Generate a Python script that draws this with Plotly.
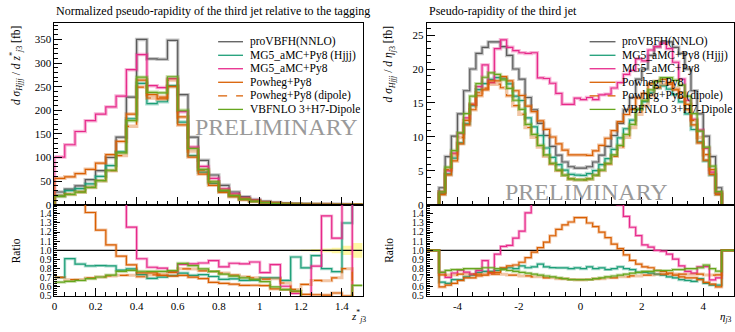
import numpy as np
import plotly.graph_objects as go

W, H = 735, 332
SERIF = "Liberation Serif, Times New Roman, serif"

# ---------------- data: left panel (z*_j3) ----------------
z_edges = [round(0.05 * i, 2) for i in range(31)]
z_prov = [27, 33, 40, 53, 72, 100, 143, 228, 350, 309, 308, 348, 233, 143, 94, 63, 41, 27, 17, 11,
          7, 4.5, 2.8, 1.8, 1.1, 0.7, 0.45, 0.3, 0.2, 0.12]
z_mg5_hjjj = [19, 30, 34, 44, 60, 83, 112, 182, 257, 214, 218, 252, 175, 104, 69, 45, 28, 18.6, 11.4, 7.4,
              4.9, 3.15, 1.88, 1.67, 0.89, 0.66, 0.36, 0.23, 0.26, 0.22]
z_mg5 = [101, 127, 155, 178, 192, 207, 230, 286, 318, 252, 248, 267, 197, 122, 81, 56, 33.6, 23.2, 14.5, 9.6,
         5.3, 3.8, 1.7, 0.95, 0.5, 0.58, 0.62, 0.34, 0.4, 0]
z_powheg = [56, 59, 66, 75, 88, 106, 134, 192, 264, 233, 224, 250, 169, 101, 65, 41, 26.2, 17, 10.5, 6.8,
            4.3, 2.6, 1.6, 0.99, 0.57, 0.36, 0.23, 0.16, 0.1, 0.04]
z_powheg_dip = [19, 22.4, 27.2, 37, 51, 72, 104, 166, 249, 226, 228, 264, 186, 114, 73, 48.5, 30.8, 19.7, 12.1, 7.7,
                4.8, 3.1, 1.8, 1.03, 0.69, 0.47, 0.3, 0.21, 0.16, 0.05]
z_vbfnlo = [17.6, 21.8, 26.8, 36.6, 51, 73, 110, 178, 270, 238, 237, 271, 200, 119, 75, 48.5, 30.3, 19.4, 11.9, 7.5,
            4.6, 2.7, 1.6, 1.0, 0.5, 0.3, 0.2, 0.13, 0.09, 0.074]
z_prov_relunc = [0.0] * 23 + [0.008, 0.01, 0.015, 0.02, 0.03, 0.05, 0.08]

# ---------------- data: right panel (eta_j3) ----------------
eta_edges = [round(-4.6 + 0.2 * i, 2) for i in range(47)]
eta_prov = [2.5, 7.1, 10.1, 13.4, 16.8, 20.0, 22.3, 23.2, 24.0, 24.0, 23.3, 22.0, 20.0, 18.5, 15.8, 14.0, 12.0,
            10.2, 8.6, 7.3, 6.3, 5.6, 5.4, 5.4, 5.6, 6.3, 7.3, 8.6, 10.2, 12.0, 14.0, 15.8, 18.5, 20.0, 22.0,
            23.3, 24.0, 24.0, 23.2, 22.3, 20.0, 16.8, 13.4, 10.1, 7.1, 2.5]
eta_mg5_hjjj = [1.63, 4.54, 6.87, 9.11, 11.93, 14.6, 16.95, 17.86, 18.48, 18.72, 18.64, 17.82, 16.0, 15.36,
                12.8, 11.48, 10.2, 8.36, 6.97, 5.91, 5.1, 4.48, 4.37, 4.32, 4.59, 5.04, 5.91, 6.79, 8.16,
                9.84, 11.2, 12.48, 14.06, 15.2, 16.5, 17.24, 17.52, 17.04, 16.24, 15.16, 13.4, 11.09, 9.25,
                6.46, 4.4, 1.55]
eta_mg5 = [1.9, 5.0, 7.6, 10.5, 12.8, 14.8, 17.4, 20.6, 18.0, 23.0, 24.3, 23.2, 22.7, 22.4, 22.3, 22.4, 18.7,
           18.6, 17.9, 16.4, 14.8, 14.8, 15.7, 15.5, 15.8, 15.5, 16.2, 16.3, 17.2, 18.0, 19.2, 19.8, 21.5,
           21.2, 22.8, 23.3, 23.8, 23.0, 21.0, 18.5, 15.4, 12.6, 11.0, 8.3, 4.8, 1.75]
eta_powheg = [1.5, 4.4, 6.46, 8.98, 11.76, 14.0, 16.06, 16.94, 18.24, 18.24, 18.87, 18.26, 16.8, 16.1, 14.54,
              13.72, 12.36, 11.12, 9.98, 8.98, 8.06, 7.34, 7.34, 7.34, 7.28, 7.94, 8.76, 9.80, 10.91, 12.24,
              13.3, 14.06, 15.73, 16.4, 17.82, 18.17, 18.48, 18.0, 16.94, 15.83, 14.0, 11.76, 9.11, 6.57,
              4.47, 1.5]
eta_powheg_dip = [1.83, 5.18, 7.37, 9.92, 12.43, 14.8, 16.5, 17.17, 17.76, 17.76, 17.24, 16.06, 14.6, 13.32,
                  11.38, 9.94, 8.52, 7.14, 6.02, 5.04, 4.35, 3.81, 3.67, 3.67, 3.81, 4.35, 5.04, 6.02, 7.14,
                  8.52, 9.94, 11.38, 13.32, 14.6, 16.06, 17.24, 17.76, 17.76, 17.17, 16.5, 14.8, 12.43, 9.92,
                  7.37, 5.18, 1.83]
eta_vbfnlo = [1.9, 5.54, 7.98, 10.59, 13.44, 16.0, 17.84, 18.79, 19.44, 19.2, 18.41, 17.16, 15.4, 14.06, 11.85,
              10.36, 8.76, 7.34, 6.11, 5.11, 4.35, 3.81, 3.67, 3.67, 3.81, 4.35, 5.11, 6.11, 7.34, 8.76, 10.36,
              11.85, 14.06, 15.4, 16.94, 18.17, 18.72, 18.72, 18.33, 17.62, 16.0, 13.44, 10.85, 8.48, 5.68, 1.93]

labels = ["proVBFH(NNLO)", "MG5_aMC+Py8 (Hjjj)", "MG5_aMC+Py8", "Powheg+Py8", "Powheg+Py8 (dipole)",
          "VBFNLO 3+H7-Dipole"]
colors = ["#5a5a5a", "#1b9e77", "#e7298a", "#d95f02", "#d95f02", "#66a61e"]
shadow = ["rgba(150,150,150,0.55)", "rgba(27,158,119,0.35)", "rgba(231,41,138,0.35)",
          "rgba(217,95,2,0.35)", "rgba(217,95,2,0.35)", "rgba(102,166,30,0.35)"]
dashes = ["solid", "solid", "solid", "solid", "dash", "solid"]

z_series = [z_prov, z_mg5_hjjj, z_mg5, z_powheg, z_powheg_dip, z_vbfnlo]
eta_series = [eta_prov, eta_mg5_hjjj, eta_mg5, eta_powheg, eta_powheg_dip, eta_vbfnlo]


def px(x):
    return x / W


def py(y):
    return 1 - y / H


fig = go.Figure()


def hist_xy(edges, vals):
    x = [edges[0]] + list(edges) + [edges[-1]]
    y = [0] + list(vals) + [vals[-1], 0]
    return x, y


def add_step(x, y, xa, ya, i, shadow_w=3.5):
    fig.add_trace(go.Scatter(x=x, y=y, mode="lines", line=dict(shape="hv", color=shadow[i], width=shadow_w),
                             xaxis=xa, yaxis=ya, hoverinfo="skip", showlegend=False))
    fig.add_trace(go.Scatter(x=x, y=y, mode="lines", line=dict(shape="hv", color=colors[i], width=1.2,
                                                                dash=dashes[i]),
                             xaxis=xa, yaxis=ya, name=labels[i], showlegend=False))


# yellow uncertainty band for the reference in the left ratio panel
lo = [1 - u for u in z_prov_relunc]
hi = [1 + u for u in z_prov_relunc]
fig.add_trace(go.Scatter(x=z_edges, y=lo + [lo[-1]], mode="lines",
                         line=dict(shape="hv", width=0, color="rgba(0,0,0,0)"),
                         xaxis="x2", yaxis="y2", showlegend=False, hoverinfo="skip"))
fig.add_trace(go.Scatter(x=z_edges, y=hi + [hi[-1]], mode="lines",
                         line=dict(shape="hv", width=0, color="rgba(0,0,0,0)"),
                         fill="tonexty", fillcolor="rgba(255,240,90,0.55)",
                         xaxis="x2", yaxis="y2", showlegend=False, hoverinfo="skip"))

# reference lines at ratio 1
fig.add_trace(go.Scatter(x=[0, 1.5], y=[1, 1], mode="lines", line=dict(color="black", width=1.2),
                         xaxis="x2", yaxis="y2", showlegend=False, hoverinfo="skip"))
fig.add_trace(go.Scatter(x=[-5, 5], y=[1, 1], mode="lines", line=dict(color="black", width=1.2),
                         xaxis="x4", yaxis="y4", showlegend=False, hoverinfo="skip"))

# left main + ratio
for i, vals in enumerate(z_series):
    x, y = hist_xy(z_edges, vals)
    add_step(x, y, "x", "y", i)
for i, vals in enumerate(z_series):
    if i == 0:
        continue
    r = [v / g for v, g in zip(vals, z_prov)]
    add_step(z_edges, r + [r[-1]], "x2", "y2", i, shadow_w=3)

# right main + ratio
for i, vals in enumerate(eta_series):
    x, y = hist_xy(eta_edges, vals)
    add_step(x, y, "x3", "y3", i)
for i, vals in enumerate(eta_series):
    if i == 0:
        continue
    r = [v / g for v, g in zip(vals, eta_prov)]
    xr = [-5] + eta_edges[:-1] + [eta_edges[-1], 5]
    yr = [1] + r + [1, 1]
    add_step(xr, yr, "x4", "y4", i, shadow_w=3)

# domains
XL = [px(51.7), px(361)]
XR = [px(425.5), px(734)]
YT = [py(208.5), py(23.3)]
YB = [py(301.5), py(208.5)]

tickfont = dict(family=SERIF, size=11, color="black")
common = dict(showline=True, linecolor="black", linewidth=1, mirror=True, showgrid=False, zeroline=False,
              ticks="inside", tickcolor="black")

ratio_vals = [0.5, 0.6, 0.7, 0.8, 0.9, 1.0, 1.1, 1.2, 1.3, 1.4]
ratio_text = ["0.5", "0.6", "0.7", "0.8", "0.9", "1.0", "1.1", "1.2", "1.3", "1.4"]
rfont = dict(family=SERIF, size=9.5, color="black")

fig.update_layout(
    width=W, height=H, margin=dict(l=0, r=0, t=0, b=0),
    paper_bgcolor="white", plot_bgcolor="white", showlegend=False,
    xaxis=dict(domain=XL, range=[0, 1.5], anchor="y", showticklabels=False, tick0=0, dtick=0.2, ticklen=8,
               minor=dict(ticks="inside", dtick=0.05, ticklen=4, tickcolor="black"), tickfont=tickfont, **common),
    yaxis=dict(domain=YT, range=[0, 385], anchor="x", tick0=0, dtick=50, ticklen=8,
               minor=dict(ticks="inside", dtick=10, ticklen=4, tickcolor="black"), tickfont=tickfont, **common),
    xaxis2=dict(domain=XL, range=[0, 1.5], anchor="y2", tickvals=[0, 0.2, 0.4, 0.6, 0.8, 1, 1.2, 1.4],
                ticktext=["0", "0.2", "0.4", "0.6", "0.8", "1", "1.2", "1.4"], ticklen=8,
                minor=dict(ticks="inside", dtick=0.05, ticklen=4, tickcolor="black"), tickfont=tickfont, **common),
    yaxis2=dict(domain=YB, range=[0.5, 1.5], anchor="x2", tickvals=ratio_vals, ticktext=ratio_text, ticklen=6,
                minor=dict(ticks="inside", dtick=0.02, ticklen=3, tickcolor="black"), tickfont=rfont, **common),
    xaxis3=dict(domain=XR, range=[-5, 5], anchor="y3", showticklabels=False, tick0=0, dtick=1, ticklen=8,
                minor=dict(ticks="inside", dtick=0.5, ticklen=4, tickcolor="black"), tickfont=tickfont, **common),
    yaxis3=dict(domain=YT, range=[0, 26.8], anchor="x3", tick0=0, dtick=5, ticklen=8,
                minor=dict(ticks="inside", dtick=1, ticklen=4, tickcolor="black"), tickfont=tickfont, **common),
    xaxis4=dict(domain=XR, range=[-5, 5], anchor="y4", tickvals=[-4, -2, 0, 2, 4],
                ticktext=["-4", "-2", "0", "2", "4"], ticklen=8,
                minor=dict(ticks="inside", tick0=0, dtick=0.5, ticklen=4, tickcolor="black"), tickfont=tickfont,
                **common),
    yaxis4=dict(domain=YB, range=[0.5, 1.5], anchor="x4", tickvals=ratio_vals, ticktext=ratio_text, ticklen=6,
                minor=dict(ticks="inside", dtick=0.02, ticklen=3, tickcolor="black"), tickfont=rfont, **common),
)

ann = []


def text(x, y, s, size=11.5, color="black", xanchor="left", yanchor="middle", angle=0):
    ann.append(dict(x=px(x), y=py(y), xref="paper", yref="paper", text=s, showarrow=False,
                    font=dict(family=SERIF, size=size, color=color), xanchor=xanchor, yanchor=yanchor,
                    textangle=angle))


# titles
text(51, 11, "Normalized pseudo-rapidity of the third jet relative to the tagging", size=12)
text(426, 11, "Pseudo-rapidity of the third jet", size=12)
# axis titles
text(13, 24, "<i>d σ</i><sub><i>Hjjj</i></sub> / <i>d z</i><sup>*</sup><sub><i>j</i>3</sub> [fb]", size=11.5,
     xanchor="center", yanchor="top", angle=-90)
text(388, 24, "<i>d σ</i><sub><i>Hjjj</i></sub> / <i>d η</i><sub><i>j</i>3</sub> [fb]", size=11.5,
     xanchor="center", yanchor="top", angle=-90)
text(13, 255, "Ratio", size=11.5, xanchor="center", angle=-90)
text(388, 255, "Ratio", size=11.5, xanchor="center", angle=-90)
text(366, 332, "<i>z</i><sup>*</sup><sub><i>j</i>3</sub>", size=11, xanchor="right", yanchor="bottom")
text(734, 332, "<i>η</i><sub><i>j</i>3</sub>", size=11, xanchor="right", yanchor="bottom")
# watermark
text(275, 129, "PRELIMINARY", size=24, color="#9a9a9a", xanchor="center")
text(586, 196, "PRELIMINARY", size=24, color="#9a9a9a", xanchor="center")

# legends
rows = [42.5, 56.3, 70.0, 83.8, 97.6, 111.4]
for (lx0, lx1, tx) in [(216, 241, 246), (589, 615, 620)]:
    for i, yy in enumerate(rows):
        fig.add_shape(type="line", xref="paper", yref="paper", x0=px(lx0), x1=px(lx1), y0=py(yy), y1=py(yy),
                      line=dict(color=colors[i], width=1.3, dash="dash" if dashes[i] == "dash" else "solid"))
        text(tx, yy, labels[i], size=11.5)

fig.update_layout(annotations=ann)
fig.write_html("out.html")
